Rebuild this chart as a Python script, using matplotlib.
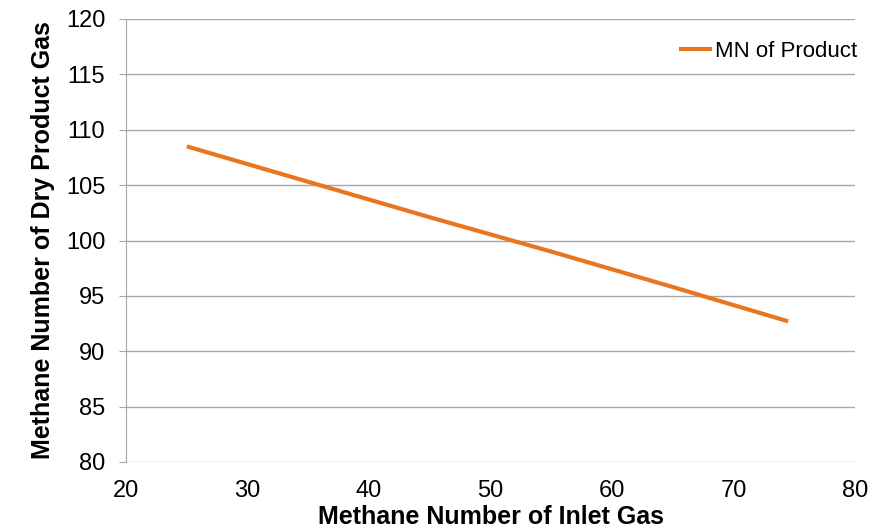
import numpy as np
import matplotlib.pyplot as plt

plt.rcParams['font.family'] = ['Liberation Sans', 'DejaVu Sans']

inlet_mn = [25, 35, 45, 55, 65, 74.5]
product_mn = [108.5, 105.3, 102.1, 99.0, 95.8, 92.7]

fig = plt.figure(figsize=(8.9, 5.32), dpi=100)
ax = fig.add_axes([126 / 890, 1 - 462 / 532, (855 - 126) / 890, (462 - 19) / 532])

ax.plot(inlet_mn, product_mn, color='#E8761E', linewidth=3, solid_capstyle='butt',
        label='MN of Product')

ax.set_xlim(20, 80)
ax.set_ylim(80, 120)
ax.set_xticks(np.arange(20, 81, 10))
ax.set_yticks(np.arange(80, 121, 5))
ax.yaxis.grid(True, color='#A6A6A6', linewidth=1)
ax.set_axisbelow(True)

for side in ['top', 'right', 'bottom']:
    ax.spines[side].set_visible(False)
ax.spines['left'].set_color('#A6A6A6')
ax.tick_params(axis='y', length=5, color='#A6A6A6', labelsize=17, pad=10)
ax.tick_params(axis='x', length=0, labelsize=17, pad=13)

ax.set_xlabel('Methane Number of Inlet Gas', fontsize=18, fontweight='bold', labelpad=2)
ax.set_ylabel('Methane Number of Dry Product Gas', fontsize=18, fontweight='bold', labelpad=8)

ax.legend(loc='upper right', frameon=False, fontsize=16, handlelength=1.5,
          handletextpad=0.1, borderaxespad=0.3, bbox_to_anchor=(1.024, 0.985))

fig.savefig('out.png', dpi=100)
